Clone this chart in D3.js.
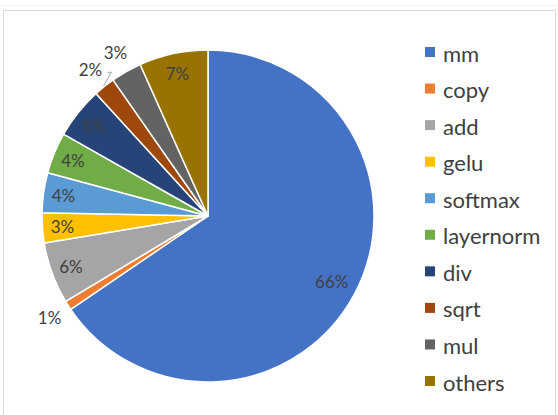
<!DOCTYPE html>
<html>
<head>
<meta charset="utf-8">
<script src="https://cdn.jsdelivr.net/npm/d3@7/dist/d3.min.js"></script>
<style>
  html, body { margin: 0; padding: 0; background: #fff; }
  svg { display: block; font-family: Lato, "Open Sans", "Liberation Sans", sans-serif; }
</style>
</head>
<body>
<svg id="chart" width="558" height="415"></svg>
<script>
const categories = ["mm", "copy", "add", "gelu", "softmax", "layernorm", "div", "sqrt", "mul", "others"];
const values = [65.5, 0.9, 6.0, 2.9, 3.9, 4.0, 5.0, 2.1, 3.0, 6.7];
const colors = ["#4472C4", "#ED7D31", "#A5A5A5", "#FFC000", "#5B9BD5", "#70AD47", "#264478", "#9E480E", "#636363", "#997300"];
const outsideLabels = ["copy", "sqrt", "mul"];

const svg = d3.select("#chart");
const W = 558, H = 415;

// frame
svg.append("line").attr("x1", 0).attr("x2", W).attr("y1", 5.5).attr("y2", 5.5)
  .attr("stroke", "#f2f2f2").attr("stroke-width", 1);
svg.append("path")
  .attr("d", `M3.5,${H} V10.5 H555.5 V${H}`)
  .attr("fill", "none").attr("stroke", "#d9d9d9").attr("stroke-width", 1);

const cx = 208, cy = 216, R = 166;
const g = svg.append("g").attr("transform", `translate(${cx},${cy})`);

const data = categories.map((c, i) => ({ name: c, value: values[i], color: colors[i] }));
const pie = d3.pie().value(d => d.value).sort(null);
const arcs = pie(data);
const arc = d3.arc().innerRadius(0).outerRadius(R);

g.selectAll("path.slice").data(arcs).join("path")
  .attr("class", "slice")
  .attr("d", arc)
  .attr("fill", d => d.data.color)
  .attr("stroke", "#fff")
  .attr("stroke-width", 1.5)
  .attr("stroke-linejoin", "round");

const fmt = v => Math.round(v) + "%";
const inArc = d3.arc().innerRadius(146).outerRadius(146);
const inArcBig = d3.arc().innerRadius(140).outerRadius(140);
const outArc = d3.arc().innerRadius(188).outerRadius(188);

arcs.forEach((a, i) => {
  const outside = outsideLabels.includes(a.data.name);
  let p;
  if (outside) p = outArc.centroid(a);
  else if (i === 0) p = inArcBig.centroid(a);
  else p = inArc.centroid(a);
  g.append("text")
    .attr("x", p[0]).attr("y", p[1])
    .attr("text-anchor", "middle")
    .attr("dominant-baseline", "central")
    .attr("font-size", 17)
    .attr("fill", "#404040")
    .text(fmt(a.data.value));
  if (a.data.name === "sqrt") {
    const mid = (a.startAngle + a.endAngle) / 2;
    const e = [Math.sin(mid) * (R + 1), -Math.cos(mid) * (R + 1)];
    const s = [p[0] + 17, p[1] + 3];
    g.append("polyline")
      .attr("points", `${s[0]},${s[1]} ${s[0] + 4},${s[1]} ${e[0]},${e[1]}`)
      .attr("fill", "none").attr("stroke", "#a6a6a6").attr("stroke-width", 1);
  }
});

// legend
const legendY = d3.scalePoint().domain(categories).range([52, 381]);
const lg = svg.append("g");
categories.forEach((c, i) => {
  const y = legendY(c);
  lg.append("rect").attr("x", 425).attr("y", y - 5).attr("width", 10).attr("height", 10)
    .attr("fill", colors[i]);
  lg.append("text").attr("x", 443).attr("y", y + 1)
    .attr("dominant-baseline", "central")
    .attr("font-size", 22)
    .attr("fill", "#404040")
    .text(c);
});
</script>
</body>
</html>
